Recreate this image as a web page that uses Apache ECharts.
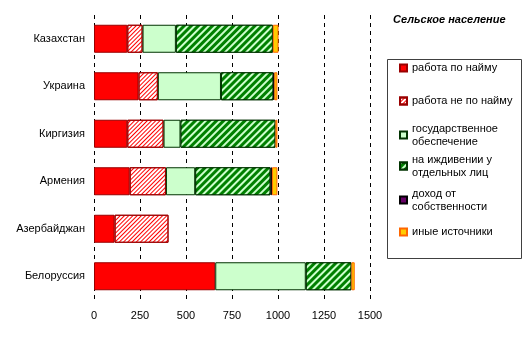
<!DOCTYPE html>
<html>
<head>
<meta charset="utf-8">
<script src="https://cdn.jsdelivr.net/npm/echarts@6/dist/echarts.min.js"></script>
<style>
html,body{margin:0;padding:0;background:#fff;}
#main{width:531px;height:341px;}
</style>
</head>
<body>
<div id="main"></div>
<script>
var countries = ['Казахстан', 'Украина', 'Киргизия', 'Армения', 'Азербайджан', 'Белоруссия'];
var xTicks = [0, 250, 500, 750, 1000, 1250, 1500];
var seriesNames = ['работа по найму', 'работа не по найму', 'государственное\nобеспечение', 'на иждивении у\nотдельных лиц', 'доход от\nсобственности', 'иные источники'];
var hired      = [181, 242, 181, 194, 112, 659];
var notHired   = [83, 105, 197, 197, 293, null];
var stateAid   = [181, 343, 92, 159, null, 492];
var dependents = [527, 285, 516, 409, null, 248];
var property   = [null, 5, null, 8, null, null];
var otherSrc   = [31, 17, 11, 30, null, 18];

var FONT = 'Arial, "Liberation Sans", sans-serif';
var values = [hired, notHired, stateAid, dependents, property, otherSrc];
var styles = [
  {color: '#ff0000', borderColor: '#990000', borderWidth: 1},
  {color: '#ffffff', borderColor: '#990000', borderWidth: 1,
    decal: {symbol: 'rect', symbolSize: 1, color: '#ff0000', dashArrayX: [1, 0], dashArrayY: [1, 2], rotation: -Math.PI / 4}},
  {color: '#ccffcc', borderColor: '#003300', borderWidth: 1},
  {color: '#008000', borderColor: '#003300', borderWidth: 1,
    decal: {symbol: 'rect', symbolSize: 1, color: '#ccffcc', dashArrayX: [1, 0], dashArrayY: [2, 3], rotation: -Math.PI / 4}},
  {color: '#660066', borderColor: '#000000', borderWidth: 1},
  {color: '#ffcc00', borderColor: '#ff6600', borderWidth: 1}
];
var legendCenters = [68, 101, 135, 166, 200, 232];

var series = seriesNames.map(function (n, i) {
  return {
    name: n, type: 'bar', stack: 'total', barWidth: 28,
    itemStyle: styles[i], data: values[i], animation: false
  };
});

var legends = seriesNames.map(function (n, i) {
  var twoLine = n.indexOf('\n') >= 0;
  return {
    data: [n], orient: 'vertical', left: 399,
    top: twoLine ? legendCenters[i] - 19.5 : legendCenters[i] - 6.5,
    padding: 0, itemWidth: 7, itemHeight: 7, icon: 'rect', selectedMode: false,
    textStyle: {color: '#000', fontFamily: FONT, fontSize: 11, lineHeight: 13,
      padding: twoLine ? [13, 0, 0, 0] : 0}
  };
});

var chart = echarts.init(document.getElementById('main'), null, {renderer: 'canvas'});
chart.setOption({
  backgroundColor: '#ffffff',
  animation: false,
  title: {
    text: 'Сельское население', left: 393, top: 14, padding: 0,
    textStyle: {fontFamily: FONT, fontSize: 11, fontWeight: 'bold', fontStyle: 'italic', color: '#000'}
  },
  graphic: [{
    type: 'rect', shape: {x: 387.5, y: 59.5, width: 134, height: 199},
    style: {fill: 'none', stroke: '#404040', lineWidth: 1}, silent: true
  }],
  legend: legends,
  grid: {left: 94, top: 15, width: 276, height: 285, containLabel: false},
  xAxis: {
    type: 'value', min: xTicks[0], max: xTicks[xTicks.length - 1], interval: 250,
    axisLine: {show: false}, axisTick: {show: false},
    axisLabel: {color: '#000', fontFamily: FONT, fontSize: 11, margin: 10,
      showMinLabel: true, showMaxLabel: true,
      formatter: function (v) { return String(v); }},
    splitLine: {show: true, lineStyle: {color: '#000', type: [4, 4], width: 1}}
  },
  yAxis: {
    type: 'category', data: countries, inverse: true,
    axisLine: {show: false}, axisTick: {show: false},
    axisLabel: {color: '#000', fontFamily: FONT, fontSize: 11, margin: 9}
  },
  series: series
});
</script>
</body>
</html>
